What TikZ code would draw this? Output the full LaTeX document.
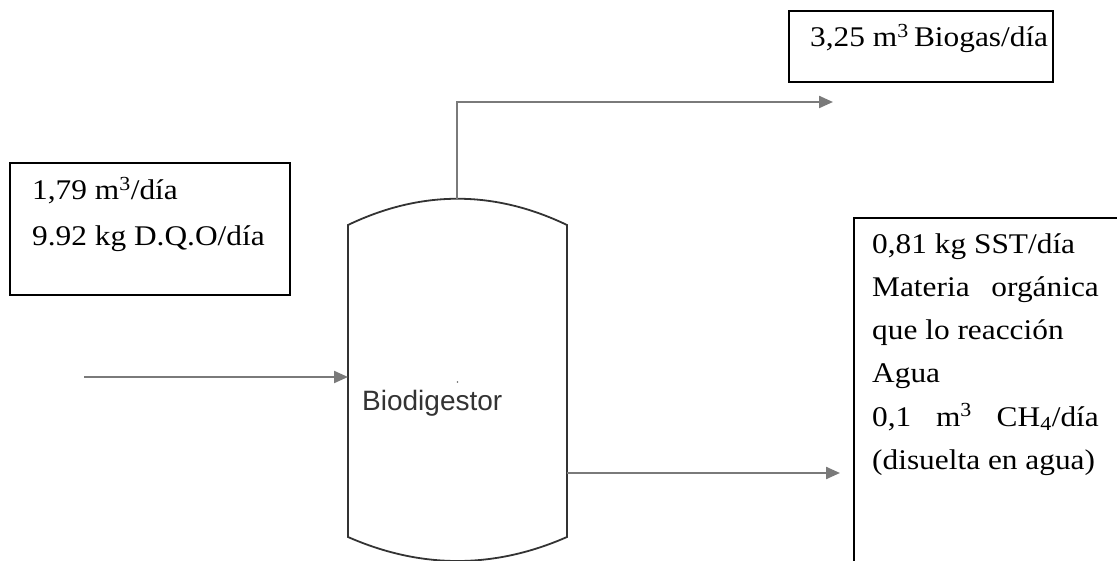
\documentclass[tikz,border=0pt]{standalone}
\usepackage{fontspec}
\usepackage{graphicx}
\setmainfont{Liberation Serif}
\newfontfamily\arialfont{Liberation Sans}
\usetikzlibrary{arrows.meta}
\newcommand{\hs}[1]{\scalebox{1.1}[1]{#1}}
\newcommand{\jl}[1]{\hs{\makebox[206pt][s]{#1}}}
\begin{document}
\begin{tikzpicture}[x=1pt,y=-1pt,
  lbl/.style={anchor=base west,inner sep=0pt,font=\fontsize{28.5}{32}\selectfont},
  boxline/.style={draw=black,line width=1.8pt,inner sep=0pt,anchor=north west},
  vessel/.style={draw=black!80,line width=1.8pt},
  flow/.style={draw=black!52,line width=2.2pt,-{Triangle[length=14pt,width=12pt]}}]
\useasboundingbox (0,0) rectangle (1117,561);
\clip (0,0) rectangle (1117,561);

% boxes
\node[boxline,minimum width=280pt,minimum height=132pt] (inbox) at (9,162) {};
\node[boxline,minimum width=264pt,minimum height=71pt] (gasbox) at (788,10) {};
\node[boxline,minimum width=320pt,minimum height=400pt] (outbox) at (853,217) {};

% box texts
\node[lbl] (in1) at (32,200) {\hs{1,79 m\textsuperscript{3}/día}};
\node[lbl] (in2) at (32,246) {\hs{9.92 kg D.Q.O/día}};
\node[lbl] (gas1) at (810,47) {\hs{3,25 m\textsuperscript{3}\,Biogas/día}};
\node[lbl] (out1) at (872,254) {\hs{0,81 kg SST/día}};
\node[lbl] (out2) at (872,297) {\jl{Materia orgánica}};
\node[lbl] (out3) at (872,340) {\hs{que lo reacción}};
\node[lbl] (out4) at (872,383) {\hs{Agua}};
\node[lbl] (out5) at (872,426) {\jl{0,1 m\textsuperscript{3} CH\textsubscript{4}/día}};
\node[lbl] (out6) at (872,469) {\hs{(disuelta en agua)}};

% vessel
\draw[vessel] (348,225) -- (348,537)
  .. controls (421,569) and (494,569) .. (567,537)
  -- (567,225)
  .. controls (494,190) and (421,190) .. cycle;
\node[font=\arialfont\fontsize{28}{30}\selectfont,text=black!80,anchor=base west,inner sep=0pt] (vlabel) at (362,410) {Biodigestor};
\fill[black!60] (457.5,382) circle (0.8pt);

% connector points
\coordinate (inStart) at (84,377);
\coordinate (vesselIn) at (348,377);
\coordinate (vesselTop) at (457,199);
\coordinate (gasEnd) at (833,102);
\coordinate (vesselOut) at (567,473);
\coordinate (outEnd) at (840,473);

\draw[flow] (inStart) -- (vesselIn);
\draw[flow] (vesselTop) |- (gasEnd);
\draw[flow] (vesselOut) -- (outEnd);
\end{tikzpicture}
\end{document}
